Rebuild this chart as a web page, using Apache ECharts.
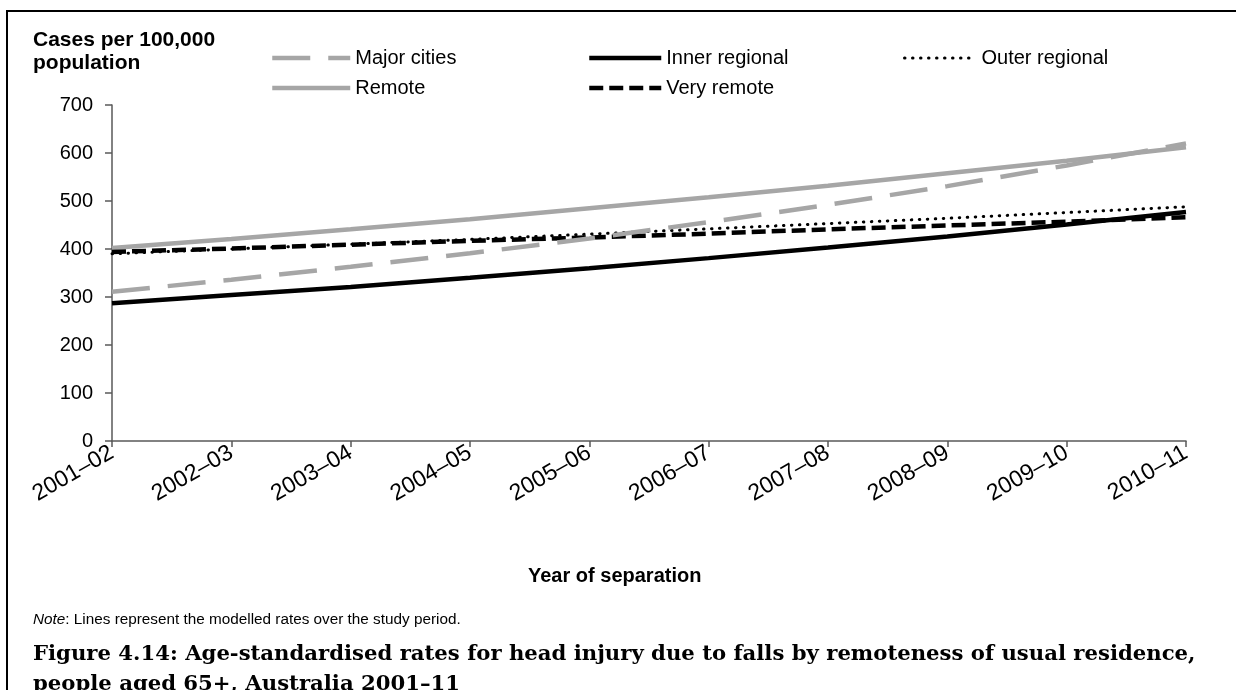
<!DOCTYPE html>
<html>
<head>
<meta charset="utf-8">
<script src="https://cdn.jsdelivr.net/npm/echarts@6/dist/echarts.min.js"></script>
<style>
  html, body { margin: 0; padding: 0; background: #fff; }
  #wrap { position: relative; width: 1236px; height: 690px; overflow: hidden; }
  #frame {
    position: absolute; left: 6px; top: 10px; right: -10px; bottom: -10px;
    border-left: 2px solid #000; border-top: 2px solid #000;
  }
  #chart_rates { position: absolute; left: 0; top: 0; width: 1236px; height: 690px; }
</style>
</head>
<body>
<div id="wrap">
  <div id="frame"></div>
  <div id="chart_rates"></div>
</div>
<script>
// financial years on the x axis
const years = ['2001–02', '2002–03', '2003–04', '2004–05', '2005–06', '2006–07', '2007–08', '2008–09', '2009–10', '2010–11']

// modelled rates, cases per 100,000 population
const majorCities = [311, 336, 363, 391, 422, 456, 492, 531, 574, 620]
const innerRegional = [287, 304, 321, 340, 360, 381, 403, 426, 451, 477]
const outerRegional = [390, 400, 410, 420, 431, 442, 453, 464, 476, 488]
const remote = [402, 421, 441, 462, 485, 508, 532, 558, 584, 612]
const veryRemote = [394, 401, 409, 417, 424, 432, 441, 449, 457, 466]

const yMin = 0
const yMax = 700
const yStep = 100

const sans = 'Liberation Sans, Arial, sans-serif'
const grey = '#A6A6A6'
const axisGrey = '#595959'

const chart = echarts.init(document.getElementById('chart_rates'))

function legendAt(name, left, top, width, lineWidth, cap) {
  return {
    data: [name],
    left: left,
    top: top,
    padding: 0,
    itemWidth: width,
    itemHeight: 14,
    selectedMode: false,
    itemStyle: { opacity: 0 },
    lineStyle: { width: lineWidth, cap: cap || 'butt' },
    textStyle: { fontFamily: sans, fontSize: 20, color: '#000' }
  }
}

function lineSeries(name, data, color, width, type, cap) {
  return {
    name: name,
    type: 'line',
    data: data,
    symbol: 'none',
    smooth: false,
    itemStyle: { color: color },
    lineStyle: { color: color, width: width, type: type, cap: cap || 'butt' }
  }
}

chart.setOption({
  animation: false,
  title: [
    {
      text: 'Cases per 100,000\npopulation',
      left: 33,
      top: 29,
      padding: 0,
      textStyle: { fontFamily: sans, fontSize: 21, fontWeight: 'bold', color: '#000', lineHeight: 23 }
    },
    {
      text: 'Year of separation',
      left: 528,
      top: 566,
      padding: 0,
      textStyle: { fontFamily: sans, fontSize: 20, fontWeight: 'bold', color: '#000' }
    },
    {
      text: '{i|Note}: Lines represent the modelled rates over the study period.',
      left: 33,
      top: 612,
      padding: 0,
      textStyle: {
        fontFamily: sans, fontSize: 15.3, fontWeight: 'normal', color: '#000',
        rich: { i: { fontFamily: sans, fontSize: 15.3, fontStyle: 'italic', color: '#000' } }
      }
    },
    {
      text: 'Figure 4.14: Age-standardised rates for head injury due to falls by remoteness of usual residence,\npeople aged 65+, Australia 2001–11',
      left: 33,
      top: 639,
      padding: 0,
      textStyle: { fontFamily: 'DejaVu Serif, serif', fontSize: 21.2, fontWeight: 'bold', color: '#000', lineHeight: 30 }
    }
  ],
  legend: [
    legendAt('Major cities', 270, 48, 78, 4.5),
    legendAt('Inner regional', 587, 48, 72, 4.5),
    legendAt('Outer regional', 903, 48, 72, 3, 'round'),
    legendAt('Remote', 270, 78, 78, 4.5),
    legendAt('Very remote', 587, 78, 72, 4.5)
  ],
  grid: { left: 112, right: 50, top: 105, bottom: 249, containLabel: false },
  xAxis: {
    type: 'category',
    data: years,
    boundaryGap: false,
    axisLine: { lineStyle: { color: axisGrey, width: 1.5 } },
    axisTick: { alignWithLabel: true, length: 6, lineStyle: { color: axisGrey, width: 1.5 } },
    axisLabel: { rotate: 30, margin: 10, fontFamily: sans, fontSize: 23, color: '#000', interval: 0 },
    splitLine: { show: false }
  },
  yAxis: {
    type: 'value',
    min: yMin,
    max: yMax,
    interval: yStep,
    axisLine: { show: true, lineStyle: { color: axisGrey, width: 1.5 } },
    axisTick: { show: true, length: 7, lineStyle: { color: axisGrey, width: 1.5 } },
    axisLabel: { margin: 19, fontFamily: sans, fontSize: 20, color: '#000' },
    splitLine: { show: false }
  },
  series: [
    lineSeries('Remote', remote, grey, 4.5, 'solid'),
    lineSeries('Inner regional', innerRegional, '#000', 4.5, 'solid'),
    lineSeries('Outer regional', outerRegional, '#000', 3, [0.5, 7.5], 'round'),
    lineSeries('Very remote', veryRemote, '#000', 4.5, [14, 6]),
    lineSeries('Major cities', majorCities, grey, 4.5, [38, 18])
  ]
})
</script>
</body>
</html>
